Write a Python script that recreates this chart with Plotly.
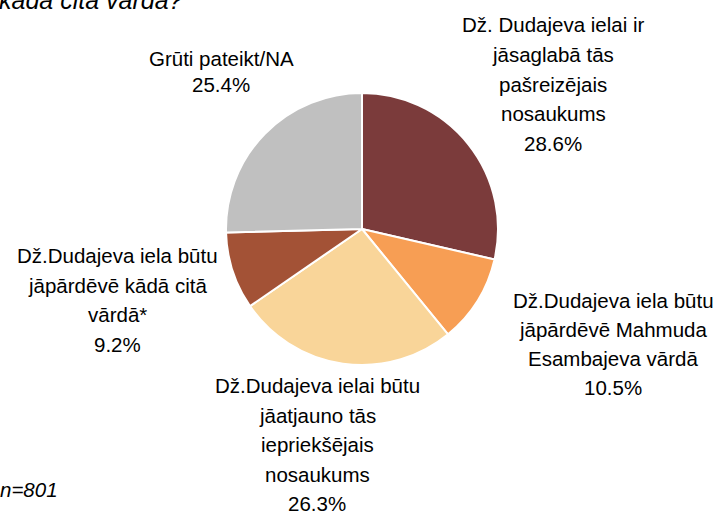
import plotly.graph_objects as go

categories = [
    "Dž. Dudajeva ielai ir jāsaglabā tās pašreizējais nosaukums",
    "Dž.Dudajeva iela būtu jāpārdēvē Mahmuda Esambajeva vārdā",
    "Dž.Dudajeva ielai būtu jāatjauno tās iepriekšējais nosaukums",
    "Dž.Dudajeva iela būtu jāpārdēvē kādā citā vārdā*",
    "Grūti pateikt/NA",
]
values = [28.6, 10.5, 26.3, 9.2, 25.4]
label_lines = [
    ["Dž. Dudajeva ielai ir", "jāsaglabā tās", "pašreizējais", "nosaukums"],
    ["Dž.Dudajeva iela būtu", "jāpārdēvē Mahmuda", "Esambajeva vārdā"],
    ["Dž.Dudajeva ielai būtu", "jāatjauno tās", "iepriekšējais", "nosaukums"],
    ["Dž.Dudajeva iela būtu", "jāpārdēvē kādā citā", "vārdā*"],
    ["Grūti pateikt/NA"],
]
colors = ["#7B3B3B", "#F79E54", "#F9D599", "#A35236", "#C0C0C0"]
title_text = "kādā citā vārdā?"
note_text = "n=801"

W, H = 718, 513
FONT = "Liberation Sans, Arial, sans-serif"
FS = 20.5

cx, cy, r = 362, 229, 136

# label layout: (center x, first line cap-center y, line spacing)
label_pos = [
    (553, 24.5, 29.8),
    (613, 300.5, 29.0),
    (317, 385.5, 29.6),
    (117, 255.5, 29.7),
    (221, 59, 25.5),
]

fig = go.Figure(go.Pie(
    labels=categories,
    values=values,
    sort=False,
    direction="clockwise",
    rotation=0,
    marker=dict(colors=colors, line=dict(color="white", width=2)),
    textinfo="none",
    hoverinfo="label+percent",
    showlegend=False,
    domain=dict(x=[(cx - r) / W, (cx + r) / W], y=[1 - (cy + r) / H, 1 - (cy - r) / H]),
))

annotations = []
for (lx, ly, sp), lines, v in zip(label_pos, label_lines, values):
    all_lines = lines + [f"{v:.1f}%"]
    for i, t in enumerate(all_lines):
        y_px = ly + i * sp
        annotations.append(dict(
            x=lx / W, y=1 - y_px / H, xref="paper", yref="paper",
            text=t, showarrow=False, xanchor="center", yanchor="middle",
            font=dict(family=FONT, size=FS, color="#000000"),
        ))

annotations.append(dict(
    x=185 / W, y=1 - 0 / H, xref="paper", yref="paper",
    text=f"<i>{title_text}</i>", showarrow=False, xanchor="right", yanchor="middle",
    font=dict(family=FONT, size=25, color="#000000"),
))
annotations.append(dict(
    x=-2 / W, y=1 - 489 / H, xref="paper", yref="paper",
    text=f"<i>{note_text}</i>", showarrow=False, xanchor="left", yanchor="middle",
    font=dict(family=FONT, size=20.5, color="#000000"),
))

fig.update_layout(
    width=W, height=H,
    margin=dict(l=0, r=0, t=0, b=0),
    paper_bgcolor="white", plot_bgcolor="white",
    annotations=annotations,
)

fig.write_html("out.html", config={"displayModeBar": False},
               post_script="document.body.style.margin='0';")
